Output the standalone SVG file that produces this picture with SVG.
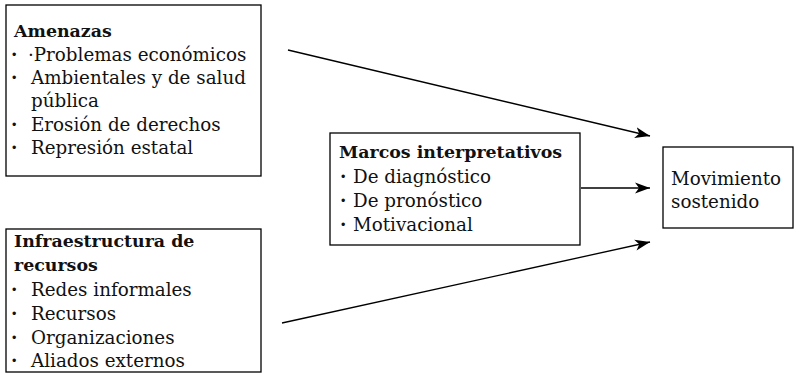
<svg xmlns="http://www.w3.org/2000/svg" width="794" height="381" viewBox="0 0 794 381">
<style>
  .box { fill: #ffffff; stroke: #000000; stroke-width: 1.3; }
  .t { font-family: "DejaVu Serif", "Liberation Serif", serif; font-size: 18.3px; fill: #111111; }
  .b { font-family: "DejaVu Serif", "Liberation Serif", serif; font-size: 18.3px; font-weight: bold; fill: #111111; }
  .h { font-family: "DejaVu Serif", "Liberation Serif", serif; font-size: 17.4px; font-weight: bold; fill: #111111; }
  .conn { stroke: #000000; stroke-width: 1.3; fill: none; marker-end: url(#arr); }
</style>
<defs>
  <marker id="arr" markerUnits="userSpaceOnUse" markerWidth="16" markerHeight="12" refX="15" refY="6" orient="auto">
    <path d="M0,0.5 L15,6 L0,11.5 L4,6 Z" fill="#000000"/>
  </marker>
</defs>
<rect width="794" height="381" fill="#ffffff"/>
<g id="amenazas">
  <rect class="box" x="6" y="5" width="255" height="171"/>
  <text class="h" x="14" y="37">Amenazas</text>
  <text class="b" x="11" y="61">·</text><text class="t" x="28" y="61">·Problemas económicos</text>
  <text class="b" x="11" y="84">·</text><text class="t" x="31" y="84">Ambientales y de salud</text>
  <text class="t" x="31" y="107">pública</text>
  <text class="b" x="11" y="131">·</text><text class="t" x="31" y="131">Erosión de derechos</text>
  <text class="b" x="11" y="154">·</text><text class="t" x="31" y="154">Represión estatal</text>
</g>
<g id="infraestructura">
  <rect class="box" x="6" y="229" width="255" height="143"/>
  <text class="h" x="14" y="247">Infraestructura de</text>
  <text class="h" x="14" y="271">recursos</text>
  <text class="b" x="11" y="296">·</text><text class="t" x="31" y="296">Redes informales</text>
  <text class="b" x="11" y="320">·</text><text class="t" x="31" y="320">Recursos</text>
  <text class="b" x="11" y="344">·</text><text class="t" x="31" y="344">Organizaciones</text>
  <text class="b" x="11" y="367">·</text><text class="t" x="31" y="367">Aliados externos</text>
</g>
<g id="marcos">
  <rect class="box" x="330" y="133" width="250" height="112"/>
  <text class="h" x="339" y="158">Marcos interpretativos</text>
  <text class="b" x="340" y="183">·</text><text class="t" x="353" y="183">De diagnóstico</text>
  <text class="b" x="340" y="207">·</text><text class="t" x="353" y="207">De pronóstico</text>
  <text class="b" x="340" y="231">·</text><text class="t" x="353" y="231">Motivacional</text>
</g>
<g id="movimiento">
  <rect class="box" x="663" y="147" width="130" height="81"/>
  <text class="t" x="671" y="185">Movimiento</text>
  <text class="t" x="671" y="208">sostenido</text>
</g>
<g id="connectors">
  <line class="conn" x1="288" y1="50" x2="650" y2="136"/>
  <line class="conn" x1="581" y1="188" x2="650" y2="188"/>
  <line class="conn" x1="282" y1="323" x2="650" y2="242"/>
</g>
</svg>
